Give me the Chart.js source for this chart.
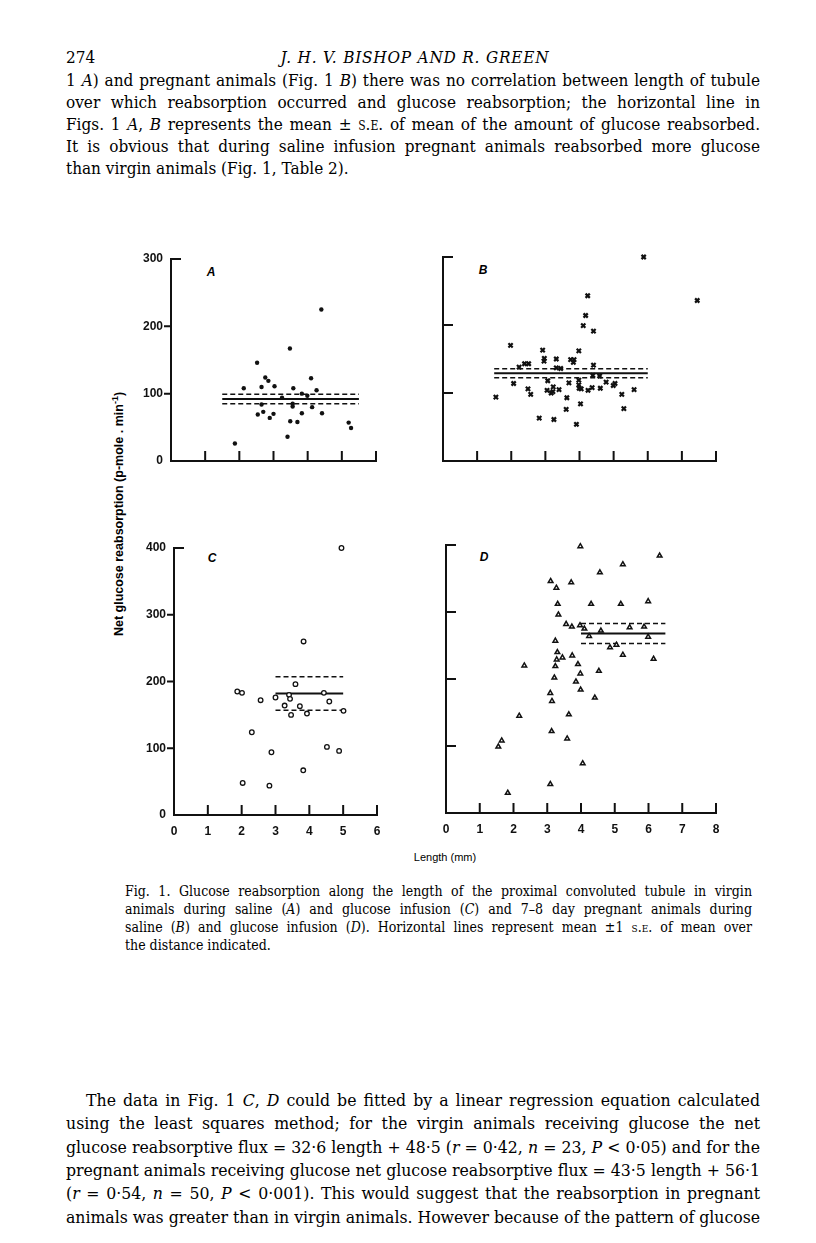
<!DOCTYPE html>
<html>
<head>
<meta charset="utf-8">
<script src="https://cdn.jsdelivr.net/npm/chart.js@4.4.1/dist/chart.umd.min.js"></script>
<style>
body { margin: 0; width: 816px; height: 1243px; position: relative; overflow: hidden; background: #fff; color: #000; font-family: "DejaVu Serif Condensed", "DejaVu Serif", serif; font-stretch: condensed; }
.ln { position: absolute; left: 66px; width: 694px; font-size: 17px; line-height: 22px; text-align: justify; text-align-last: justify; }
.cap { position: absolute; left: 125px; width: 627px; font-size: 14px; line-height: 18px; text-align: justify; text-align-last: justify; }
.left { text-align: left; text-align-last: left; }
.sc { font-variant: small-caps; }
.panel-letter { position: absolute; font: italic bold 12px "Liberation Sans", sans-serif; transform: translate(-50%, -50%); }
.chart-box { position: absolute; }
</style>
</head>
<body>

<div class="ln left" style="top:46px;">274</div>
<div class="ln" style="top:46px;left:0;width:830px;text-align:center;text-align-last:center;font-style:italic;letter-spacing:0.8px;">J. H. V. BISHOP AND R. GREEN</div>
<div class="ln fit" style="top:69px">1 <i>A</i>) and pregnant animals (Fig. 1 <i>B</i>) there was no correlation between length of tubule</div>
<div class="ln fit" style="top:91px">over which reabsorption occurred and glucose reabsorption; the horizontal line in</div>
<div class="ln fit" style="top:113px">Figs. 1 <i>A</i>, <i>B</i> represents the mean ± <span class="sc">s.e.</span> of mean of the amount of glucose reabsorbed.</div>
<div class="ln fit" style="top:135px">It is obvious that during saline infusion pregnant animals reabsorbed more glucose</div>
<div class="ln left" style="top:157px;">than virgin animals (Fig. 1, Table 2).</div>

<div style="position:absolute;left:118px;top:514px;transform:translate(-50%,-50%) rotate(-90deg);white-space:nowrap;font:bold 12.5px 'Liberation Sans',sans-serif;">Net glucose reabsorption (p-mole . min<sup style="font-size:9px">-1</sup>)</div>
<div style="position:absolute;left:445px;top:857px;transform:translate(-50%,-50%);white-space:nowrap;font:11px 'Liberation Sans',sans-serif;">Length (mm)</div>

<div class="cap fit" style="top:882px">Fig. 1. Glucose reabsorption along the length of the proximal convoluted tubule in virgin</div>
<div class="cap fit" style="top:900px">animals during saline (<i>A</i>) and glucose infusion (<i>C</i>) and 7–8 day pregnant animals during</div>
<div class="cap fit" style="top:918px">saline (<i>B</i>) and glucose infusion (<i>D</i>). Horizontal lines represent mean ±1 <span class="sc">s.e.</span> of mean over</div>
<div class="cap left" style="top:936px;">the distance indicated.</div>

<div class="ln fit" style="top:1089px;left:86px;width:674px;font-size:17.5px;">The data in Fig. 1 <i>C</i>, <i>D</i> could be fitted by a linear regression equation calculated</div>
<div class="ln fit" style="top:1112px;font-size:17.5px;">using the least squares method; for the virgin animals receiving glucose the net</div>
<div class="ln fit" style="top:1136px;font-size:17.5px;">glucose reabsorptive flux = 32·6 length + 48·5 (<i>r</i> = 0·42, <i>n</i> = 23, <i>P</i> &lt; 0·05) and for the</div>
<div class="ln fit" style="top:1159px;font-size:17.5px;">pregnant animals receiving glucose net glucose reabsorptive flux = 43·5 length + 56·1</div>
<div class="ln fit" style="top:1182px;font-size:17.5px;">(<i>r</i> = 0·54, <i>n</i> = 50, <i>P</i> &lt; 0·001). This would suggest that the reabsorption in pregnant</div>
<div class="ln fit" style="top:1206px;font-size:17.5px;">animals was greater than in virgin animals. However because of the pattern of glucose</div>

<div class="panel-letter" style="left:211px;top:272px">A</div>
<div class="panel-letter" style="left:483px;top:270px">B</div>
<div class="panel-letter" style="left:212px;top:558px">C</div>
<div class="panel-letter" style="left:484px;top:557px">D</div>

<script>
// tick values
const xTicks6 = [0, 1, 2, 3, 4, 5, 6];
const xTicks8 = [0, 1, 2, 3, 4, 5, 6, 7, 8];
const yTicks300 = [0, 100, 200, 300];
const yTicks400 = [0, 100, 200, 300, 400];

// A: virgin, saline
const lengthA = [4.40, 3.48, 2.52, 2.13, 2.65, 2.76, 2.85, 3.03, 3.58, 4.10, 4.26, 3.83, 3.99, 3.25, 2.65,
                 3.56, 3.56, 4.13, 2.54, 2.70, 2.89, 3.00, 3.83, 4.42, 3.49, 3.70, 5.20, 5.27, 3.41, 1.87];
const reabsA  = [225, 167, 146, 108, 110, 124, 119, 111, 108, 123, 105, 100, 97, 94, 84,
                 85, 81, 80, 69, 73, 64, 70, 71, 71, 59, 58, 57, 49, 36, 26];
const meanA = [92, 7];        // mean, s.e.
const spanA = [1.5, 5.5];     // distance over which the mean applies

// B: pregnant, saline
const lengthB = [5.88, 7.45, 4.24, 4.18, 4.11, 4.41, 1.98, 2.92, 3.98, 2.97, 2.96, 3.32, 3.74, 3.84, 3.82,
                 2.39, 2.51, 2.23, 4.41, 3.32, 3.45, 4.39, 4.59, 3.07, 3.98, 4.78, 2.07, 3.69, 5.04, 4.99,
                 3.98, 3.23, 4.61, 4.37, 3.99, 2.49, 4.05, 3.05, 3.40, 5.60, 4.25, 2.57, 3.17, 3.22, 5.24,
                 1.55, 3.63, 4.03, 3.61, 5.30, 2.82, 3.25, 3.91];
const reabsB  = [300, 236, 243, 214, 199, 191, 170, 163, 162, 151, 147, 150, 149, 149, 145,
                 143, 143, 138, 141, 137, 136, 126, 125, 118, 119, 116, 114, 115, 114, 111,
                 112, 109, 107, 108, 107, 106, 106, 104, 105, 105, 104, 98, 100, 102, 98,
                 94, 93, 84, 76, 77, 63, 61, 54];
const meanB = [129, 6.5];
const spanB = [1.5, 6.0];

// C: virgin, glucose
const lengthC = [4.95, 3.83, 3.59, 1.87, 2.01, 4.43, 3.40, 3.43, 3.00, 2.56, 4.59, 3.27, 3.72, 3.93, 3.46,
                 5.01, 2.30, 4.52, 4.88, 2.88, 3.82, 2.03, 2.82];
const reabsC  = [400, 260, 196, 185, 183, 183, 180, 174, 176, 172, 170, 164, 163, 152, 150,
                 156, 124, 102, 96, 94, 67, 48, 44];
const meanC = [182, 25];
const spanC = [3.0, 5.0];

// D: pregnant, glucose
const lengthD = [3.98, 6.33, 5.24, 4.56, 3.10, 3.71, 3.27, 3.31, 4.30, 5.18, 5.99, 3.33, 3.56, 3.73, 3.97,
                 4.10, 4.59, 4.24, 5.44, 5.87, 5.99, 4.86, 5.05, 5.24, 6.15, 3.24, 3.30, 3.28, 3.45, 3.74,
                 3.24, 2.32, 3.91, 3.98, 4.53, 3.21, 3.85, 3.99, 3.09, 3.14, 4.41, 2.17, 3.64, 3.13, 3.59,
                 1.65, 1.55, 4.05, 3.09, 1.83];
const reabsD  = [398, 384, 371, 359, 346, 344, 336, 312, 312, 312, 316, 296, 282, 278, 280,
                 275, 272, 264, 277, 278, 263, 247, 251, 236, 230, 257, 240, 229, 232, 235,
                 219, 220, 222, 208, 212, 202, 196, 184, 179, 167, 172, 145, 147, 122, 111,
                 108, 99, 74, 43, 30];
const meanD = [268, 15];
const spanD = [4.0, 6.5];

// squeeze any justified line that would otherwise wrap
document.querySelectorAll('.fit').forEach(el => {
    const target = el.clientWidth - 2;
    const probe = el.cloneNode(true);
    probe.style.width = 'auto';
    probe.style.whiteSpace = 'nowrap';
    probe.style.visibility = 'hidden';
    document.body.appendChild(probe);
    const natural = probe.getBoundingClientRect().width;
    probe.remove();
    if (natural > target) {
        el.style.letterSpacing = ((target - natural) / el.textContent.length) + 'px';
    }
});

const tickFont = { family: "'Liberation Sans', sans-serif", size: 12, weight: 'bold' };

// axis lines and tick marks drawn in the style of the printed figure
const paperAxes = {
    id: 'paperAxes',
    afterDatasetsDraw(chart, args, opts) {
        const { ctx } = chart;
        const x = chart.scales.x, y = chart.scales.y;
        const x0 = x.getPixelForValue(0), x1 = x.getPixelForValue(x.max);
        const y0 = y.getPixelForValue(0), y1 = y.getPixelForValue(y.max);
        ctx.save();
        ctx.strokeStyle = '#111';
        ctx.lineWidth = 2;
        ctx.lineCap = 'square';
        ctx.beginPath();
        ctx.moveTo(x0 + 9, y1);
        ctx.lineTo(x0, y1);
        ctx.lineTo(x0, y0);
        ctx.lineTo(x1, y0);
        ctx.lineTo(x1, y0 - 9);
        x.ticks.forEach(t => {
            if (t.value > 0 && t.value < x.max) {
                const px = x.getPixelForValue(t.value);
                ctx.moveTo(px, y0);
                ctx.lineTo(px, y0 - 9);
            }
        });
        y.ticks.forEach(t => {
            if (t.value > 0 && t.value < y.max) {
                const py = y.getPixelForValue(t.value);
                ctx.moveTo(x0, py);
                ctx.lineTo(x0 + (opts.inward ? 9 : -6), py);
            }
        });
        ctx.stroke();
        ctx.restore();
    }
};

function meanLines(mean, span) {
    const base = { type: 'line', borderColor: '#111', pointRadius: 0, fill: false, clip: false };
    return [
        Object.assign({}, base, { data: [{ x: span[0], y: mean[0] }, { x: span[1], y: mean[0] }], borderWidth: 2 }),
        Object.assign({}, base, { data: [{ x: span[0], y: mean[0] + mean[1] }, { x: span[1], y: mean[0] + mean[1] }], borderWidth: 1.5, borderDash: [5, 3] }),
        Object.assign({}, base, { data: [{ x: span[0], y: mean[0] - mean[1] }, { x: span[1], y: mean[0] - mean[1] }], borderWidth: 1.5, borderDash: [5, 3] })
    ];
}

function makePanel(cfg) {
    const padL = 60, padR = 16, padT = 18, padB = 32;
    const f = cfg.frame;
    const box = document.createElement('div');
    box.className = 'chart-box';
    box.style.left = (f.left - padL) + 'px';
    box.style.top = (f.top - padT) + 'px';
    box.style.width = (f.right - f.left + padL + padR) + 'px';
    box.style.height = (f.bottom - f.top + padT + padB) + 'px';
    const canvas = document.createElement('canvas');
    box.appendChild(canvas);
    document.body.appendChild(box);

    const points = cfg.xs.map((v, i) => ({ x: v, y: cfg.ys[i] }));

    new Chart(canvas, {
        type: 'scatter',
        data: {
            datasets: [
                Object.assign({ data: points, clip: false }, cfg.marker)
            ].concat(meanLines(cfg.mean, cfg.span))
        },
        options: {
            responsive: true,
            maintainAspectRatio: false,
            animation: false,
            layout: { padding: { left: 0, right: padR, top: padT, bottom: 0 } },
            plugins: {
                legend: { display: false },
                tooltip: { enabled: false },
                paperAxes: { inward: cfg.inward }
            },
            scales: {
                x: {
                    type: 'linear',
                    min: 0,
                    max: cfg.xTicks[cfg.xTicks.length - 1],
                    afterBuildTicks: s => { s.ticks = cfg.xTicks.map(v => ({ value: v })); },
                    afterFit: s => { s.height = padB; },
                    grid: { display: false, drawTicks: false },
                    border: { display: false },
                    ticks: { display: cfg.showX, padding: 9, color: '#111', font: tickFont, maxRotation: 0 }
                },
                y: {
                    type: 'linear',
                    min: 0,
                    max: cfg.yTicks[cfg.yTicks.length - 1],
                    afterBuildTicks: s => { s.ticks = cfg.yTicks.map(v => ({ value: v })); },
                    afterFit: s => { s.width = padL; },
                    grid: { display: false, drawTicks: false },
                    border: { display: false },
                    ticks: { display: cfg.showY, padding: 8, color: '#111', font: tickFont }
                }
            }
        },
        plugins: [paperAxes]
    });
}

makePanel({
    frame: { left: 171, right: 376, top: 259, bottom: 461 },
    xs: lengthA, ys: reabsA, mean: meanA, span: spanA,
    xTicks: xTicks6, yTicks: yTicks300, showX: false, showY: true, inward: false,
    marker: { pointStyle: 'circle', pointRadius: 2.2, backgroundColor: '#111', borderColor: '#111', borderWidth: 0 }
});
makePanel({
    frame: { left: 443, right: 716, top: 257, bottom: 461 },
    xs: lengthB, ys: reabsB, mean: meanB, span: spanB,
    xTicks: xTicks8, yTicks: yTicks300, showX: false, showY: false, inward: true,
    marker: { pointStyle: 'crossRot', pointRadius: 3, borderColor: '#111', borderWidth: 2.2 }
});
makePanel({
    frame: { left: 174, right: 377, top: 548, bottom: 815 },
    xs: lengthC, ys: reabsC, mean: meanC, span: spanC,
    xTicks: xTicks6, yTicks: yTicks400, showX: true, showY: true, inward: false,
    marker: { pointStyle: 'circle', pointRadius: 2.3, backgroundColor: '#fff', borderColor: '#111', borderWidth: 1.3 }
});
makePanel({
    frame: { left: 446, right: 716, top: 545, bottom: 813 },
    xs: lengthD, ys: reabsD, mean: meanD, span: spanD,
    xTicks: xTicks8, yTicks: yTicks400, showX: true, showY: false, inward: true,
    marker: { pointStyle: 'triangle', pointRadius: 2.7, backgroundColor: '#fff', borderColor: '#111', borderWidth: 1.5 }
});
</script>
</body>
</html>
